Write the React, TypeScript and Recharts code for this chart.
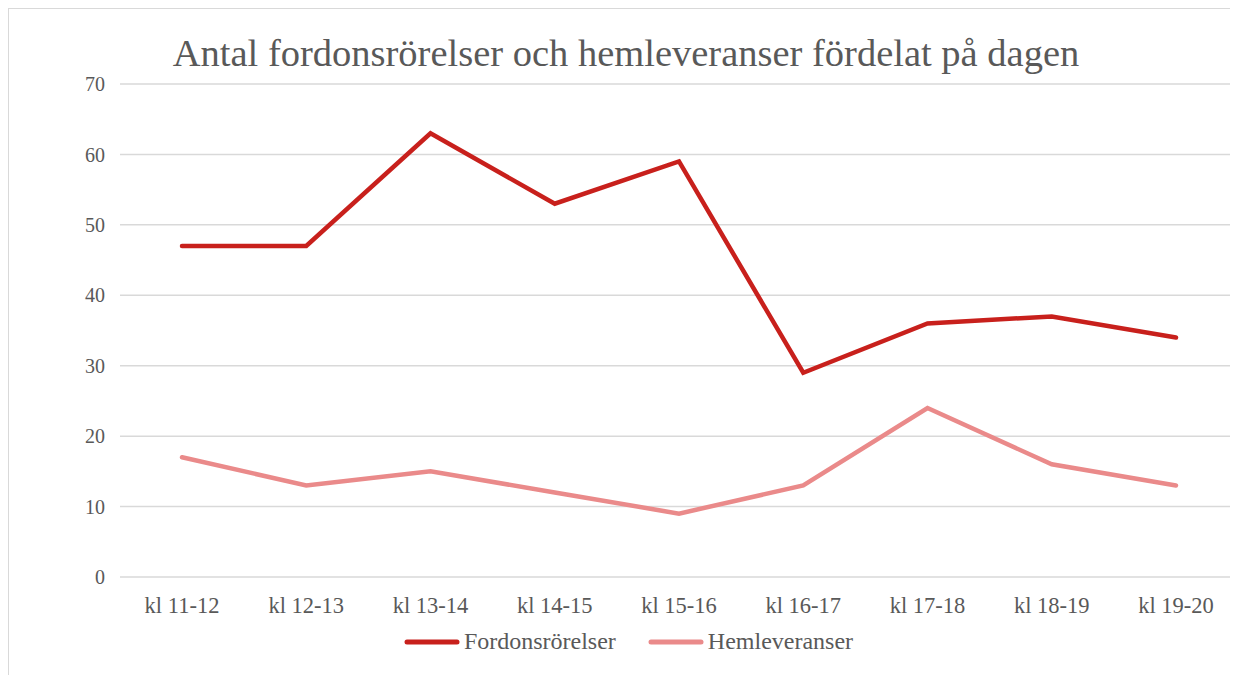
import { LineChart, Line, XAxis, YAxis, CartesianGrid, Legend } from 'recharts';

const categories = ['kl 11-12', 'kl 12-13', 'kl 13-14', 'kl 14-15', 'kl 15-16', 'kl 16-17', 'kl 17-18', 'kl 18-19', 'kl 19-20'];
const fordonsrorelser = [47, 47, 63, 53, 59, 29, 36, 37, 34];
const hemleveranser = [17, 13, 15, 12, 9, 13, 24, 16, 13];
const yTicks = [0, 10, 20, 30, 40, 50, 60, 70];

const FONT = 'Liberation Serif, DejaVu Serif, serif';
const TEXT = '#595959';

const data = categories.map((c, i) => ({
  name: c,
  Fordonsrörelser: fordonsrorelser[i],
  Hemleveranser: hemleveranser[i],
}));

function renderLegend(props: any) {
  const payload = props.payload || [];
  return (
    <div style={{ display: 'flex', justifyContent: 'center', gap: 32, paddingLeft: 3, fontFamily: FONT }}>
      {payload.map((p: any) => (
        <div key={p.value} style={{ display: 'flex', alignItems: 'center', gap: 4 }}>
          <svg width={56} height={10}>
            <line x1={3} y1={5} x2={53} y2={5} stroke={p.color} strokeWidth={5} strokeLinecap="round" />
          </svg>
          <span style={{ fontFamily: FONT, fontSize: 24, color: TEXT }}>{p.value}</span>
        </div>
      ))}
    </div>
  );
}

export default function App() {
  return (
    <div style={{ position: 'relative', width: 1238, height: 675, border: '1px solid #d9d9d9', boxSizing: 'border-box', background: '#fff', fontFamily: FONT }}>
      <div style={{ position: 'absolute', left: 0, width: 1234, top: 22, textAlign: 'center', fontFamily: FONT, fontSize: 38.5, color: TEXT, lineHeight: '44px' }}>
        Antal fordonsrörelser och hemleveranser fördelat på dagen
      </div>
      <LineChart width={1236} height={666} data={data} margin={{ top: 75, right: 7, bottom: 58, left: 0 }}>
        <CartesianGrid vertical={false} stroke="#d9d9d9" strokeWidth={1.5} />
        <XAxis
          dataKey="name"
          axisLine={false}
          tickLine={false}
          tick={{ fill: TEXT, fontSize: 22.5, fontFamily: FONT }}
          tickMargin={14}
          interval={0}
          height={40}
          padding={{ left: 62, right: 62 }}
        />
        <YAxis
          domain={[0, 70]}
          ticks={yTicks}
          axisLine={false}
          tickLine={false}
          width={111}
          tick={{ fill: TEXT, fontSize: 20, fontFamily: FONT }}
          tickMargin={9}
        />
        <Legend
          layout="horizontal"
          verticalAlign="middle"
          align="center"
          content={renderLegend}
          wrapperStyle={{ top: 619, left: 0, width: 1236, fontFamily: FONT }}
        />
        <Line type="linear" dataKey="Fordonsrörelser" stroke="#C8201C" strokeWidth={4.5} dot={false} isAnimationActive={false} strokeLinecap="round" />
        <Line type="linear" dataKey="Hemleveranser" stroke="#EA8A8A" strokeWidth={4.5} dot={false} isAnimationActive={false} strokeLinecap="round" />
      </LineChart>
    </div>
  );
}
